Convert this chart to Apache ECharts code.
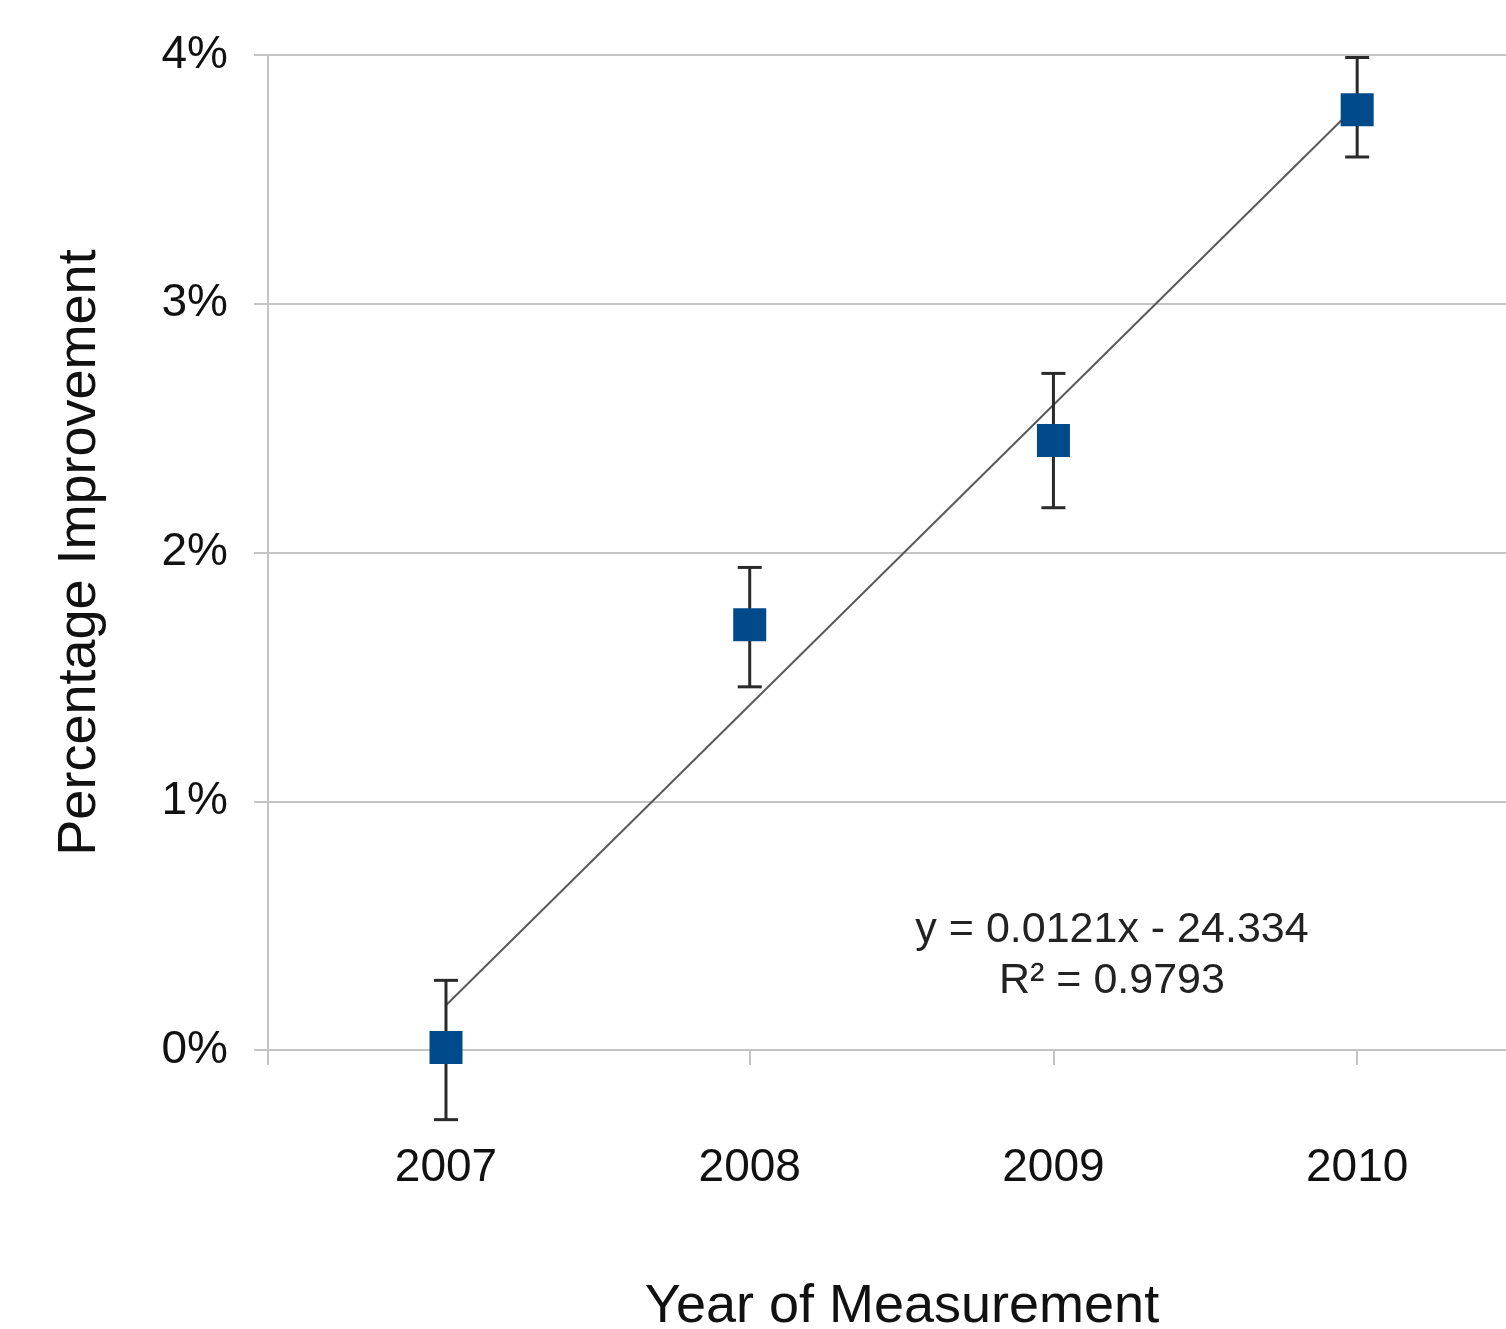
<!DOCTYPE html>
<html>
<head>
<meta charset="utf-8">
<script src="https://cdn.jsdelivr.net/npm/echarts@6/dist/echarts.min.js"></script>
<style>
html,body{margin:0;padding:0;background:#fff;}
#chart{width:1506px;height:1329px;}
</style>
</head>
<body>
<div id="chart"></div>
<script>
// Data (percent values)
const years = [2007, 2008, 2009, 2010];
const improvement = [0.01, 1.71, 2.45, 3.78];
const errLow = [-0.28, 1.46, 2.18, 3.59];
const errHigh = [0.28, 1.94, 2.72, 3.99];
const trendYears = [2007, 2010];
const trendValues = [0.18, 3.80];
const yTicks = [0, 1, 2, 3, 4];
const equationText = 'y = 0.0121x - 24.334\nR² = 0.9793';

const FONT = '"Liberation Sans", Arial, sans-serif';
const chart = echarts.init(document.getElementById('chart'));

const pts = years.map((y, i) => [y, improvement[i]]);
const errs = years.map((y, i) => [y, errLow[i], errHigh[i]]);
const trend = trendYears.map((y, i) => [y, trendValues[i]]);

chart.setOption({
  animation: false,
  backgroundColor: '#ffffff',
  grid: { left: 268, right: 0, top: 55, bottom: 279, containLabel: false, outerBoundsMode: 'none' },
  xAxis: {
    type: 'value',
    min: 2006.414,
    max: 2010.49,
    name: 'Year of Measurement',
    nameLocation: 'middle',
    nameGap: 230,
    nameTextStyle: { fontFamily: FONT, fontSize: 54, color: '#111', padding: [0, 0, 0, 30] },
    axisLine: { show: true, lineStyle: { color: '#c4c4c4', width: 2 } },
    axisTick: { show: true, customValues: [2006.414, 2008, 2009, 2010], length: 15, lineStyle: { color: '#c4c4c4', width: 2 } },
    axisLabel: { customValues: years, margin: 95, fontFamily: FONT, fontSize: 46, color: '#111', formatter: v => String(Math.round(v)) },
    splitLine: { show: false }
  },
  yAxis: {
    type: 'value',
    min: 0,
    max: 4,
    interval: 1,
    name: 'Percentage Improvement',
    nameLocation: 'middle',
    nameGap: 161,
    nameTextStyle: { fontFamily: FONT, fontSize: 54, color: '#111' },
    axisLine: { show: true, lineStyle: { color: '#c4c4c4', width: 2 } },
    axisTick: { show: true, length: 14, lineStyle: { color: '#c4c4c4', width: 2 } },
    axisLabel: { margin: 40, fontFamily: FONT, fontSize: 46, color: '#111', formatter: v => v + '%' },
    splitLine: { show: true, lineStyle: { color: '#c4c4c4', width: 2 } }
  },
  series: [
    {
      type: 'line',
      data: trend,
      symbol: 'none',
      lineStyle: { color: '#5a5a5a', width: 2 },
      z: 3
    },
    {
      type: 'custom',
      data: errs,
      z: 4,
      renderItem: function (params, api) {
        const x = api.value(0);
        const lo = api.coord([x, api.value(1)]);
        const hi = api.coord([x, api.value(2)]);
        const cap = 12;
        const style = { stroke: '#2a2a2a', lineWidth: 3 };
        return {
          type: 'group',
          children: [
            { type: 'line', shape: { x1: lo[0], y1: lo[1], x2: hi[0], y2: hi[1] }, style },
            { type: 'line', shape: { x1: lo[0] - cap, y1: lo[1], x2: lo[0] + cap, y2: lo[1] }, style },
            { type: 'line', shape: { x1: hi[0] - cap, y1: hi[1], x2: hi[0] + cap, y2: hi[1] }, style }
          ]
        };
      }
    },
    {
      type: 'scatter',
      data: pts,
      symbol: 'rect',
      symbolSize: 33,
      itemStyle: { color: '#004a8c', opacity: 1 },
      z: 5
    }
  ],
  graphic: [
    {
      type: 'text',
      x: 1112,
      y: 905,
      style: {
        text: equationText,
        font: '43px ' + FONT,
        fill: '#222',
        align: 'center',
        verticalAlign: 'top',
        lineHeight: 51
      }
    }
  ]
});
</script>
</body>
</html>
